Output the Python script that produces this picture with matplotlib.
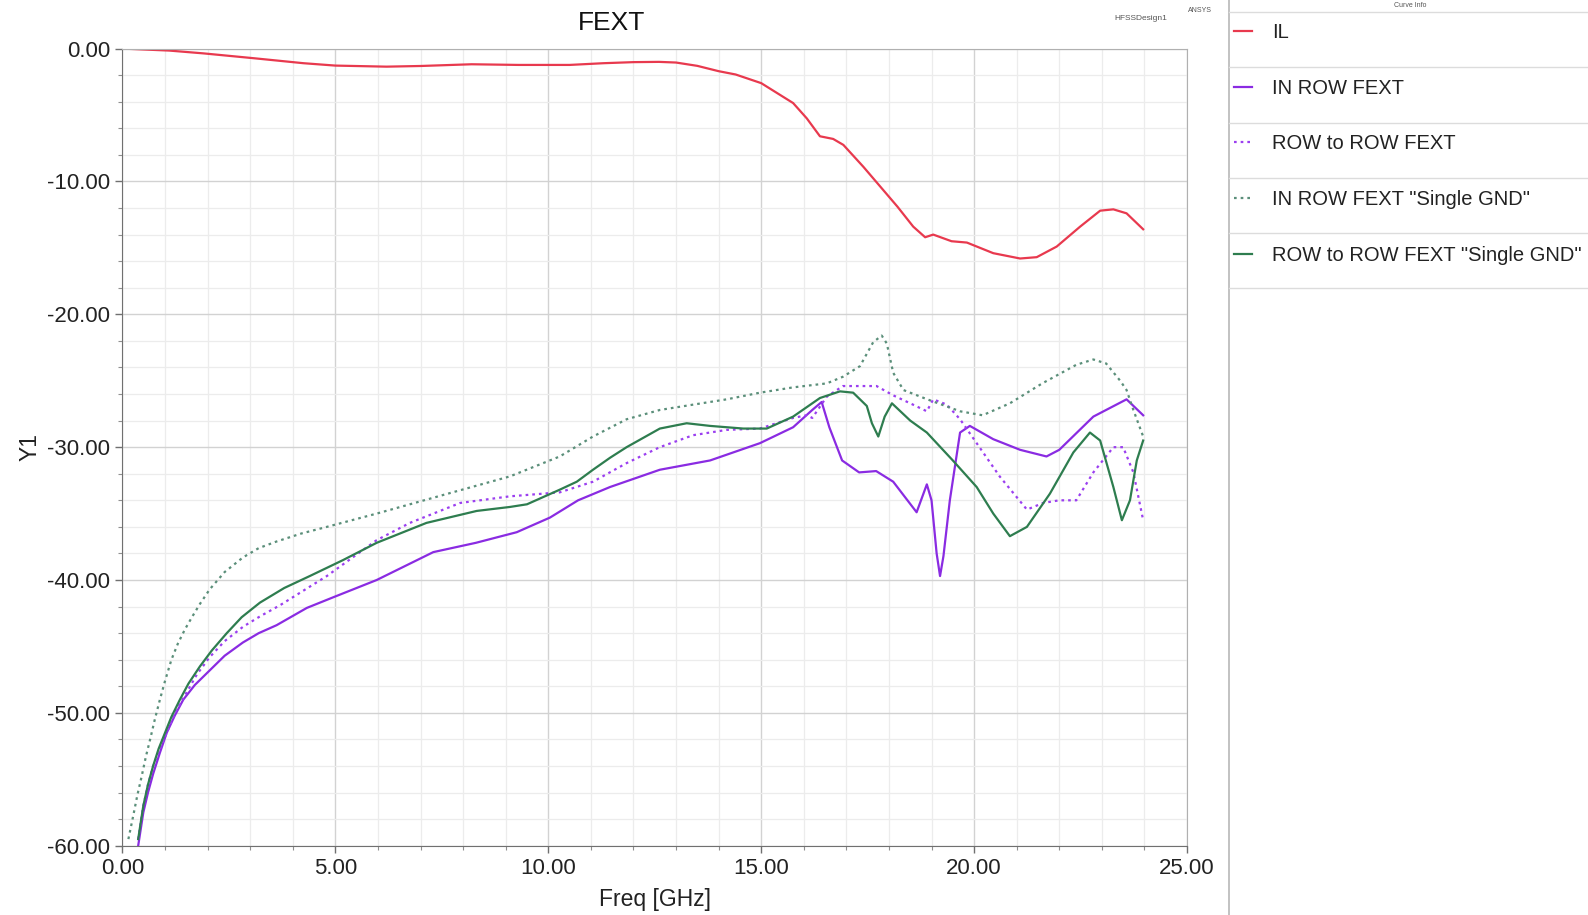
import matplotlib
matplotlib.use("Agg")
import matplotlib.pyplot as plt
from matplotlib.lines import Line2D
from matplotlib.ticker import MultipleLocator, FormatStrFormatter

plt.rcParams['font.family'] = ['Liberation Sans', 'DejaVu Sans']

# ---------------- data ----------------
series_names = ['IL', 'IN ROW FEXT', 'ROW to ROW FEXT',
                'IN ROW FEXT "Single GND"', 'ROW to ROW FEXT "Single GND"']

il_f = [0, 1.1, 1.9, 3.1, 4.25, 5.0, 6.2, 7.0, 8.2, 9.3, 10.5, 11.3, 12.0, 12.6,
        13.0, 13.5, 14.0, 14.4, 15.0, 15.45, 15.75, 16.07, 16.38, 16.69, 16.93,
        17.4, 17.8, 18.2, 18.57, 18.85, 19.04, 19.47, 19.83, 20.45, 21.08, 21.47,
        21.94, 22.49, 22.96, 23.27, 23.58, 23.97]
il_v = [0, -0.15, -0.36, -0.73, -1.1, -1.28, -1.36, -1.31, -1.18, -1.23, -1.23,
        -1.1, -1.02, -1.0, -1.05, -1.3, -1.7, -1.95, -2.6, -3.5, -4.1, -5.25, -6.6,
        -6.8, -7.25, -8.9, -10.4, -11.9, -13.4, -14.2, -14.0, -14.5, -14.6, -15.4,
        -15.8, -15.7, -14.9, -13.4, -12.2, -12.1, -12.4, -13.6]

inrow_f = [0.37, 0.49, 0.6, 0.72, 0.88, 1.04, 1.23, 1.43, 1.7, 2.05, 2.4, 2.83, 3.2,
           3.62, 4.33, 4.95, 5.97, 7.3, 8.3, 9.26, 10.04, 10.7, 11.45, 12.62, 13.8,
           14.97, 15.75, 16.2, 16.42, 16.6, 16.9, 17.3, 17.7, 18.1, 18.65, 18.89,
           19.0, 19.12, 19.2, 19.28, 19.43, 19.67, 19.9, 20.45, 21.08, 21.7, 22.0,
           22.8, 23.58, 23.97]
inrow_v = [-60, -57.5, -56.0, -54.6, -53.0, -51.5, -50.2, -49.0, -47.9, -46.8, -45.7,
           -44.7, -44.0, -43.4, -42.1, -41.3, -40.0, -37.9, -37.2, -36.4, -35.3,
           -34.0, -33.0, -31.7, -31.0, -29.7, -28.5, -27.2, -26.6, -28.5, -31.0,
           -31.9, -31.8, -32.6, -34.9, -32.8, -34.0, -38.0, -39.7, -38.2, -34.0,
           -28.9, -28.4, -29.4, -30.2, -30.7, -30.2, -27.7, -26.4, -27.6]

r2r_f = [0.37, 0.49, 0.6, 0.72, 0.88, 1.04, 1.25, 1.5, 1.75, 2.05, 2.4, 2.84, 3.25,
         3.7, 4.2, 4.8, 5.97, 6.75, 7.93, 9.1, 10.27, 11.05, 11.84, 12.62, 13.4,
         14.19, 14.97, 15.75, 16.07, 16.2, 16.54, 16.92, 17.32, 17.71, 18.1, 18.5,
         18.89, 19.04, 19.36, 19.67, 20.06, 20.6, 21.24, 21.62, 22.0, 22.4, 22.8,
         23.27, 23.5, 23.74, 23.97]
r2r_v = [-59.5, -57.0, -55.4, -54.0, -52.7, -51.5, -49.9, -48.5, -47.1, -45.8, -44.6,
         -43.5, -42.7, -41.9, -40.9, -39.7, -37.0, -35.7, -34.2, -33.7, -33.4, -32.6,
         -31.2, -30.0, -29.1, -28.7, -28.6, -27.8, -27.6, -27.8, -26.2, -25.4, -25.4,
         -25.4, -26.1, -26.7, -27.3, -26.4, -26.8, -27.9, -29.7, -32.2, -34.7, -34.2,
         -34.0, -34.0, -31.9, -30.0, -30.0, -31.9, -35.5]

inrow_sg_f = [0.14, 0.25, 0.35, 0.45, 0.55, 0.65, 0.76, 0.88, 1.0, 1.15, 1.3, 1.47,
              1.65, 1.82, 2.05, 2.4, 2.83, 3.2, 3.62, 4.2, 4.8, 5.97, 7.53, 9.1, 10.27,
              11.05, 11.84, 12.62, 13.4, 14.19, 14.97, 15.75, 16.54, 16.92, 17.32,
              17.63, 17.83, 17.95, 18.1, 18.34, 18.9, 19.67, 20.2, 20.84, 21.6, 22.4,
              22.8, 23.1, 23.43, 23.58, 23.74, 23.97]
inrow_sg_v = [-59.5, -57.8, -56.2, -54.8, -53.3, -52.0, -50.5, -49.0, -47.6, -46.0,
              -44.8, -43.7, -42.7, -41.8, -40.7, -39.4, -38.3, -37.6, -37.1, -36.5,
              -36.0, -35.0, -33.6, -32.2, -30.7, -29.2, -27.9, -27.2, -26.8, -26.4,
              -25.9, -25.5, -25.2, -24.7, -23.9, -22.1, -21.6, -22.2, -24.4, -25.7,
              -26.4, -27.3, -27.6, -26.7, -25.2, -23.8, -23.4, -23.7, -25.0, -25.7,
              -27.2, -29.2]

r2r_sg_f = [0.37, 0.49, 0.6, 0.72, 0.85, 1.0, 1.15, 1.35, 1.55, 1.82, 2.1, 2.45, 2.8,
            3.23, 3.8, 4.4, 5.18, 5.97, 7.14, 8.32, 9.1, 9.5, 10.27, 10.67, 11.05,
            11.45, 11.84, 12.62, 13.25, 13.8, 14.58, 15.13, 15.75, 16.38, 16.85,
            17.16, 17.48, 17.6, 17.75, 17.9, 18.07, 18.5, 18.89, 19.5, 20.06, 20.45,
            20.84, 21.24, 21.78, 22.33, 22.72, 22.96, 23.27, 23.47, 23.66, 23.82, 23.97]
r2r_sg_v = [-59.5, -57.0, -55.4, -54.0, -52.7, -51.5, -50.3, -49.0, -47.8, -46.5,
            -45.3, -44.0, -42.8, -41.7, -40.6, -39.7, -38.5, -37.2, -35.7, -34.8,
            -34.5, -34.3, -33.2, -32.6, -31.7, -30.8, -30.0, -28.6, -28.2, -28.4,
            -28.6, -28.6, -27.7, -26.3, -25.8, -25.9, -26.9, -28.2, -29.2, -27.7,
            -26.7, -28.0, -28.9, -31.0, -33.0, -35.0, -36.7, -36.0, -33.5, -30.4,
            -28.9, -29.5, -33.0, -35.5, -34.0, -31.0, -29.5]

x_ticks = [0, 5, 10, 15, 20, 25]
y_ticks = [0, -10, -20, -30, -40, -50, -60]

colors = ['#e8394e', '#8a2be2', '#9b3ff0', '#5b8f7a', '#2e7d4f']
styles = ['-', '-', (0, (1.2, 1.8)), (0, (1.2, 1.8)), '-']

# ---------------- figure ----------------
fig = plt.figure(figsize=(15.88, 9.15), dpi=100)
ax = fig.add_axes([0.0771, 0.0757, 0.6704, 0.8712])

data = [(il_f, il_v), (inrow_f, inrow_v), (r2r_f, r2r_v),
        (inrow_sg_f, inrow_sg_v), (r2r_sg_f, r2r_sg_v)]
handles = []
for (f, v), name, c, ls in zip(data, series_names, colors, styles):
    h, = ax.plot(f, v, color=c, linestyle=ls, linewidth=1.6, label=name,
                 solid_joinstyle='round')
    handles.append(h)

ax.set_xlim(0, 25)
ax.set_ylim(-60, 0)
ax.set_xticks(x_ticks)
ax.set_yticks(y_ticks)
ax.xaxis.set_major_formatter(FormatStrFormatter('%.2f'))
ax.yaxis.set_major_formatter(FormatStrFormatter('%.2f'))
ax.xaxis.set_minor_locator(MultipleLocator(1))
ax.yaxis.set_minor_locator(MultipleLocator(2))
ax.grid(which='major', color='#d2d2d2', linewidth=1.0)
ax.grid(which='minor', color='#ececec', linewidth=0.9)
ax.set_axisbelow(True)
ax.tick_params(which='major', direction='out', length=5, width=1, color='#707070',
               labelsize=16, pad=4, labelcolor='#222222')
ax.tick_params(which='minor', direction='out', length=3, width=0.8, color='#909090')
for s in ['left', 'bottom']:
    ax.spines[s].set_color('#707070')
for s in ['top', 'right']:
    ax.spines[s].set_color('#b0b0b0')

ax.set_xlabel('Freq [GHz]', fontsize=16.5, color='#222222', labelpad=6)
ax.set_ylabel('Y1', fontsize=16.5, color='#222222', labelpad=4)

fig.text(0.385, 0.975, 'FEXT', fontsize=19, ha='center', va='center', color='#111111')
fig.text(0.7185, 0.980, 'HFSSDesign1', fontsize=6, ha='center', va='center', color='#555555')
fig.text(0.7555, 0.989, 'ANSYS', fontsize=5, ha='center', va='center', color='#555555')
fig.text(0.888, 0.9945, 'Curve Info', fontsize=5, ha='center', va='center', color='#555555')

# legend panel
sep_x = 1228.5 / 1588
fig.add_artist(Line2D([sep_x, sep_x], [0, 1], transform=fig.transFigure,
                      color='#b8b8b8', linewidth=1.2))
for yp in [12.2, 66.8, 122.5, 178, 233, 288]:
    yy = 1 - yp / 915
    fig.add_artist(Line2D([sep_x, 1.0], [yy, yy], transform=fig.transFigure,
                          color='#dcdcdc', linewidth=1.0))

leg = ax.legend(handles=handles, loc='upper left',
                bbox_to_anchor=(1234 / 1588, 1 - 23.0 / 915),
                bbox_transform=fig.transFigure, frameon=False, fontsize=14.5,
                handlelength=0.9, handletextpad=1.0, labelspacing=1.82,
                borderpad=0, borderaxespad=0)
for t in leg.get_texts():
    t.set_color('#222222')

fig.savefig('out.png', dpi=100)
